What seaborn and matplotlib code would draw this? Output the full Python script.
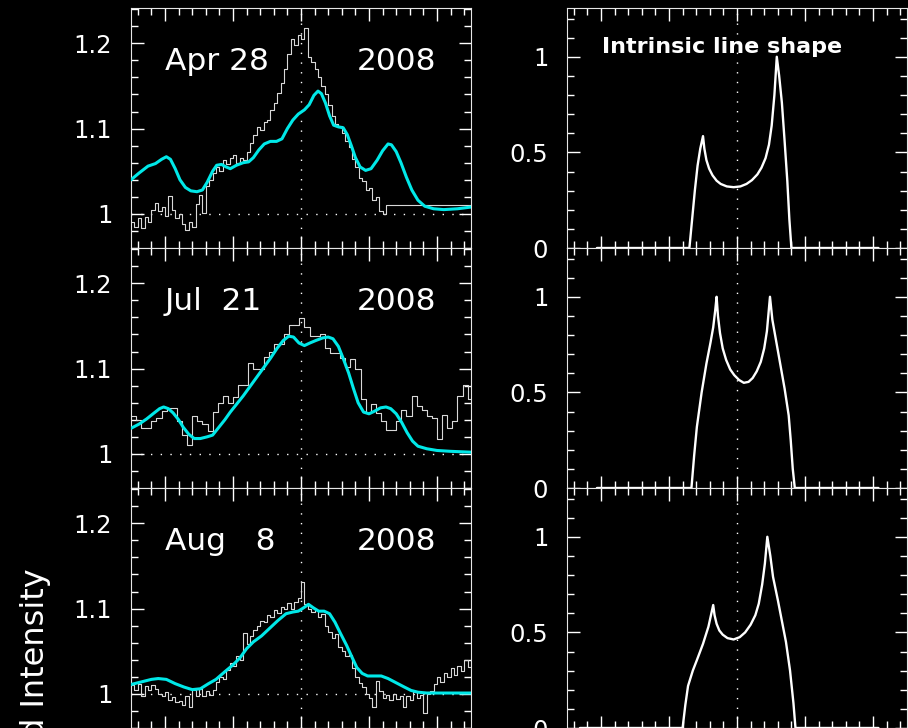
import numpy as np
import matplotlib
matplotlib.use("Agg")
import matplotlib.pyplot as plt
from matplotlib.ticker import MultipleLocator
import seaborn as sns

# velocity axis in units of 1000 km/s (major tick = 1)
BIN_FINE = 0.05
BIN_COARSE = 0.075

# ---- Apr 28 2008: observed profile (fine bins from -2.5) ----
apr_obs = [
    0.990, 0.985, 0.995, 0.983, 0.996, 0.990, 1.005, 1.013, 1.003, 1.008,
    0.998, 1.021, 1.004, 0.995, 1.000, 0.988, 0.981, 0.990, 0.985, 1.012,
    1.022, 1.001, 1.033, 1.040, 1.048, 1.055, 1.050, 1.063, 1.058, 1.066,
    1.069, 1.060, 1.066, 1.063, 1.072, 1.083, 1.092, 1.102, 1.098, 1.108,
    1.110, 1.122, 1.130, 1.142, 1.153, 1.170, 1.188, 1.205, 1.198, 1.210,
    1.205, 1.218, 1.184, 1.178, 1.170, 1.160, 1.150, 1.140, 1.128, 1.115,
    1.105, 1.103, 1.095, 1.085, 1.078, 1.064, 1.055, 1.042, 1.038, 1.028,
    1.030, 1.016, 1.020, 1.003, 1.000,
]
apr_tail = 1.0105

apr_model_x = [
    -2.50, -2.38, -2.25, -2.14, -2.05, -1.98, -1.92, -1.85, -1.78, -1.70,
    -1.62, -1.53, -1.45, -1.38, -1.30, -1.24, -1.17, -1.10, -1.04, -0.95,
    -0.85, -0.77, -0.70, -0.62, -0.54, -0.45, -0.36, -0.28, -0.20, -0.12,
    -0.04, 0.05, 0.12, 0.19, 0.25, 0.30, 0.36, 0.42, 0.48, 0.55,
    0.62, 0.68, 0.74, 0.80, 0.87, 0.95, 1.03, 1.12, 1.20, 1.28,
    1.33, 1.40, 1.47, 1.55, 1.63, 1.72, 1.82, 1.95, 2.10, 2.30, 2.50,
]
apr_model_y = [
    1.040, 1.048, 1.056, 1.059, 1.064, 1.067, 1.064, 1.053, 1.040, 1.031,
    1.027, 1.026, 1.028, 1.037, 1.050, 1.057, 1.058, 1.055, 1.053, 1.057,
    1.060, 1.061, 1.066, 1.075, 1.082, 1.085, 1.085, 1.088, 1.100, 1.110,
    1.117, 1.122, 1.128, 1.139, 1.144, 1.141, 1.130, 1.115, 1.104, 1.102,
    1.101, 1.093, 1.080, 1.066, 1.055, 1.051, 1.053, 1.063, 1.074, 1.082,
    1.081, 1.073, 1.060, 1.043, 1.028, 1.016, 1.009, 1.006, 1.005, 1.006, 1.008,
]

# ---- Jul 21 2008: observed profile (coarse bins from -2.5) ----
jul_obs = [
    1.045, 1.040, 1.030, 1.030, 1.038, 1.042, 1.050, 1.054, 1.054, 1.038,
    1.022, 1.011, 1.044, 1.039, 1.035, 1.027, 1.049, 1.060, 1.068, 1.060,
    1.067, 1.081, 1.081, 1.107, 1.100, 1.100, 1.114, 1.120, 1.129, 1.129,
    1.141, 1.151, 1.151, 1.159, 1.149, 1.138, 1.138, 1.141, 1.124, 1.118,
    1.118, 1.112, 1.102, 1.111, 1.099, 1.064, 1.048, 1.058, 1.048, 1.038,
    1.028, 1.028, 1.038, 1.052, 1.044, 1.068, 1.056, 1.052, 1.044, 1.042,
    1.017, 1.046, 1.030, 1.039, 1.068, 1.081, 1.064,
]

jul_model_x = [
    -2.50, -2.38, -2.27, -2.16, -2.08, -2.02, -1.95, -1.88, -1.80, -1.73,
    -1.65, -1.57, -1.48, -1.38, -1.30, -1.22, -1.12, -1.04, -0.95, -0.85,
    -0.75, -0.65, -0.55, -0.45, -0.35, -0.26, -0.18, -0.11, -0.03, 0.05,
    0.13, 0.22, 0.32, 0.40, 0.47, 0.55, 0.62, 0.70, 0.77, 0.84,
    0.92, 1.00, 1.08, 1.17, 1.25, 1.32, 1.40, 1.48, 1.56, 1.64,
    1.72, 1.85, 2.00, 2.20, 2.50,
]
jul_model_y = [
    1.030, 1.035, 1.041, 1.048, 1.053, 1.055, 1.053, 1.048, 1.040, 1.031,
    1.023, 1.018, 1.018, 1.020, 1.022, 1.030, 1.040, 1.049, 1.058, 1.068,
    1.079, 1.090, 1.101, 1.112, 1.124, 1.133, 1.138, 1.137, 1.130, 1.127,
    1.130, 1.133, 1.136, 1.137, 1.135, 1.126, 1.112, 1.095, 1.077, 1.060,
    1.049, 1.047, 1.050, 1.054, 1.055, 1.053, 1.047, 1.037, 1.025, 1.015,
    1.009, 1.006, 1.004, 1.003, 1.002,
]

# ---- Aug 8 2008: observed profile (fine bins from -2.5) ----
aug_obs = [
    1.010, 1.005, 1.012, 0.997, 1.009, 1.004, 1.011, 1.006, 1.000, 0.998,
    1.002, 0.993, 0.996, 0.990, 0.992, 0.987, 0.998, 0.985, 1.004, 0.998,
    1.006, 0.997, 1.003, 0.999, 1.005, 1.014, 1.020, 1.017, 1.028, 1.036,
    1.033, 1.044, 1.040, 1.071, 1.058, 1.068, 1.075, 1.080, 1.086, 1.084,
    1.092, 1.090, 1.098, 1.095, 1.102, 1.099, 1.106, 1.100, 1.108, 1.112,
    1.131, 1.105, 1.100, 1.096, 1.098, 1.090, 1.094, 1.080, 1.072, 1.066,
    1.070, 1.055, 1.050, 1.044, 1.046, 1.030, 1.020, 1.013, 1.008, 1.000,
    0.995, 0.985, 1.015, 1.003, 0.995, 0.999, 0.993, 1.000, 0.994, 0.998,
    0.985, 0.998, 0.993, 1.002, 0.995, 0.999, 0.978, 1.000, 1.003, 1.012,
    1.020, 1.014, 1.024, 1.020, 1.030, 1.022, 1.033, 1.027, 1.040, 1.032,
]

aug_model_x = [
    -2.50, -2.35, -2.20, -2.10, -1.98, -1.85, -1.72, -1.60, -1.48, -1.36,
    -1.25, -1.12, -1.00, -0.90, -0.80, -0.70, -0.58, -0.46, -0.34, -0.22,
    -0.12, -0.04, 0.04, 0.11, 0.18, 0.26, 0.34, 0.42, 0.50, 0.58,
    0.67, 0.75, 0.82, 0.90, 0.98, 1.08, 1.18, 1.28, 1.40, 1.52,
    1.62, 1.72, 1.85, 2.10, 2.50,
]
aug_model_y = [
    1.011, 1.014, 1.017, 1.018, 1.017, 1.012, 1.008, 1.005, 1.006, 1.012,
    1.017, 1.026, 1.034, 1.042, 1.053, 1.061, 1.068, 1.077, 1.086, 1.094,
    1.096, 1.097, 1.101, 1.105, 1.101, 1.097, 1.097, 1.094, 1.084, 1.071,
    1.057, 1.043, 1.031, 1.024, 1.021, 1.021, 1.021, 1.018, 1.013, 1.008,
    1.004, 1.002, 1.001, 1.001, 1.001,
]

# ---- intrinsic line shapes (right column) ----
shape1_x = [-2.06, -0.70, -0.66, -0.62, -0.58, -0.54, -0.50, -0.48, -0.45, -0.41,
            -0.36, -0.30, -0.24, -0.15, -0.05, 0.05, 0.14, 0.22, 0.30, 0.36,
            0.42, 0.47, 0.51, 0.55, 0.585, 0.62, 0.66, 0.70, 0.74, 0.77,
            0.80, 2.08]
shape1_y = [0.0, 0.0, 0.15, 0.30, 0.43, 0.52, 0.585, 0.52, 0.46, 0.415,
            0.38, 0.352, 0.335, 0.322, 0.318, 0.322, 0.335, 0.355, 0.385, 0.42,
            0.47, 0.54, 0.64, 0.80, 1.0, 0.90, 0.76, 0.56, 0.35, 0.15,
            0.0, 0.0]

shape2_x = [-2.06, -0.67, -0.63, -0.59, -0.52, -0.45, -0.39, -0.35, -0.32, -0.30,
            -0.28, -0.25, -0.21, -0.16, -0.10, -0.04, 0.03, 0.10, 0.17, 0.23,
            0.29, 0.35, 0.40, 0.44, 0.485, 0.52, 0.58, 0.64, 0.70, 0.76,
            0.79, 0.82, 0.85, 2.08]
shape2_y = [0.0, 0.0, 0.17, 0.32, 0.50, 0.65, 0.76, 0.84, 0.93, 1.0,
            0.90, 0.81, 0.73, 0.67, 0.62, 0.59, 0.565, 0.55, 0.555, 0.575,
            0.61, 0.66, 0.73, 0.82, 1.0, 0.88, 0.76, 0.64, 0.52, 0.38,
            0.25, 0.10, 0.0, 0.0]

shape3_x = [-2.31, -0.80, -0.76, -0.72, -0.65, -0.59, -0.50, -0.42, -0.35, -0.33,
            -0.30, -0.26, -0.21, -0.14, -0.05, 0.04, 0.12, 0.20, 0.27, 0.32,
            0.37, 0.41, 0.446, 0.49, 0.53, 0.60, 0.66, 0.72, 0.78, 0.83,
            0.86, 2.08]
shape3_y = [0.0, 0.0, 0.12, 0.22, 0.30, 0.355, 0.44, 0.53, 0.643, 0.59,
            0.545, 0.51, 0.488, 0.470, 0.463, 0.475, 0.50, 0.54, 0.59, 0.65,
            0.75, 0.86, 1.0, 0.90, 0.79, 0.67, 0.56, 0.45, 0.30, 0.13,
            0.0, 0.0]

dates = ["Apr 28", "Jul  21", "Aug   8"]
year = "2008"

sns.set_style("dark", rc={
    "figure.facecolor": "black",
    "axes.facecolor": "black",
    "axes.edgecolor": "#e6e6e6",
    "axes.linewidth": 1.0,
    "text.color": "white",
    "xtick.color": "white",
    "ytick.color": "white",
})
plt.rcParams["font.family"] = ["DejaVu Sans"]

CYAN = "#00e8e8"
DOT = (0, (1, 6))

fig = plt.figure(figsize=(9.08, 7.28), dpi=100, facecolor="black")
W, H = 908.0, 728.0


def style_axes(ax, ymajor, yminor, labels):
    ax.set_xlim(-2.5, 2.5)
    ax.xaxis.set_major_locator(MultipleLocator(1))
    ax.xaxis.set_minor_locator(MultipleLocator(0.2))
    ax.yaxis.set_minor_locator(MultipleLocator(yminor))
    ax.set_yticks(ymajor, labels=labels)
    ax.tick_params(which="both", direction="in", top=True, bottom=True,
                   left=True, right=True, labelbottom=False, colors="white",
                   width=1.0)
    ax.tick_params(which="major", length=9, pad=13.5, labelsize=17.5)
    ax.tick_params(which="minor", length=5)
    ax.grid(False)
    for s in ax.spines.values():
        s.set_color("#e6e6e6")


obs_sets = [
    (np.concatenate([-2.5 + BIN_FINE * np.arange(len(apr_obs)), [1.25, 2.5]]),
     apr_obs + [apr_tail, apr_tail]),
    (-2.5 + BIN_COARSE * np.arange(len(jul_obs) + 1), jul_obs + [jul_obs[-1]]),
    (-2.5 + BIN_FINE * np.arange(len(aug_obs) + 1), aug_obs + [aug_obs[-1]]),
]
models = [(apr_model_x, apr_model_y), (jul_model_x, jul_model_y),
          (aug_model_x, aug_model_y)]
shapes = [(shape1_x, shape1_y), (shape2_x, shape2_y), (shape3_x, shape3_y)]

for row in range(3):
    top_px = 8 + 240 * row
    y0 = 1 - (top_px + 240) / H

    # left column: observed + model
    ax = fig.add_axes([131 / W, y0, 340 / W, 240 / H])
    ax.axvline(0, color="white", ls=DOT, lw=1, zorder=1)
    ax.axhline(1.0, color="white", ls=DOT, lw=1, zorder=1)
    ox, oy = obs_sets[row]
    sns.lineplot(x=ox, y=oy, ax=ax, drawstyle="steps-post", color="#d8d8d8",
                 lw=0.8, estimator=None, sort=False, zorder=2)
    mx, my = models[row]
    sns.lineplot(x=mx, y=my, ax=ax, color=CYAN, lw=2.2, estimator=None,
                 sort=False, zorder=3)
    ax.set_ylim(0.960, 1.2414)
    style_axes(ax, [1.0, 1.1, 1.2], 0.02, ["1", "1.1", "1.2"])
    ax.set_xlabel("")
    ax.set_ylabel("")
    ax.text(0.1, 0.742, dates[row], transform=ax.transAxes, fontsize=22.5,
            color="white", ha="left", va="baseline")
    ax.text(0.897, 0.742, year, transform=ax.transAxes, fontsize=22.5,
            color="white", ha="right", va="baseline")

    # right column: intrinsic line shape
    ax2 = fig.add_axes([567 / W, y0, 340 / W, 240 / H])
    ax2.axvline(0, color="white", ls=DOT, lw=1, zorder=1)
    sx, sy = shapes[row]
    sns.lineplot(x=sx, y=sy, ax=ax2, color="white", lw=1.7, estimator=None,
                 sort=False, zorder=3, clip_on=False)
    ax2.set_ylim(0, 1.255)
    style_axes(ax2, [0, 0.5, 1.0], 0.1, ["0", "0.5", "1"])
    ax2.set_xlabel("")
    ax2.set_ylabel("")
    if row == 0:
        ax2.text(0.103, 0.814, "Intrinsic line shape", transform=ax2.transAxes,
                 fontsize=16, fontweight="bold", color="white", ha="left",
                 va="baseline")

fig.text(36 / W, 1 - 568 / H, "Normalized Intensity", rotation=90,
         rotation_mode="anchor", ha="right", va="center", fontsize=23,
         color="white")

fig.savefig("out.png", dpi=100, facecolor="black")
